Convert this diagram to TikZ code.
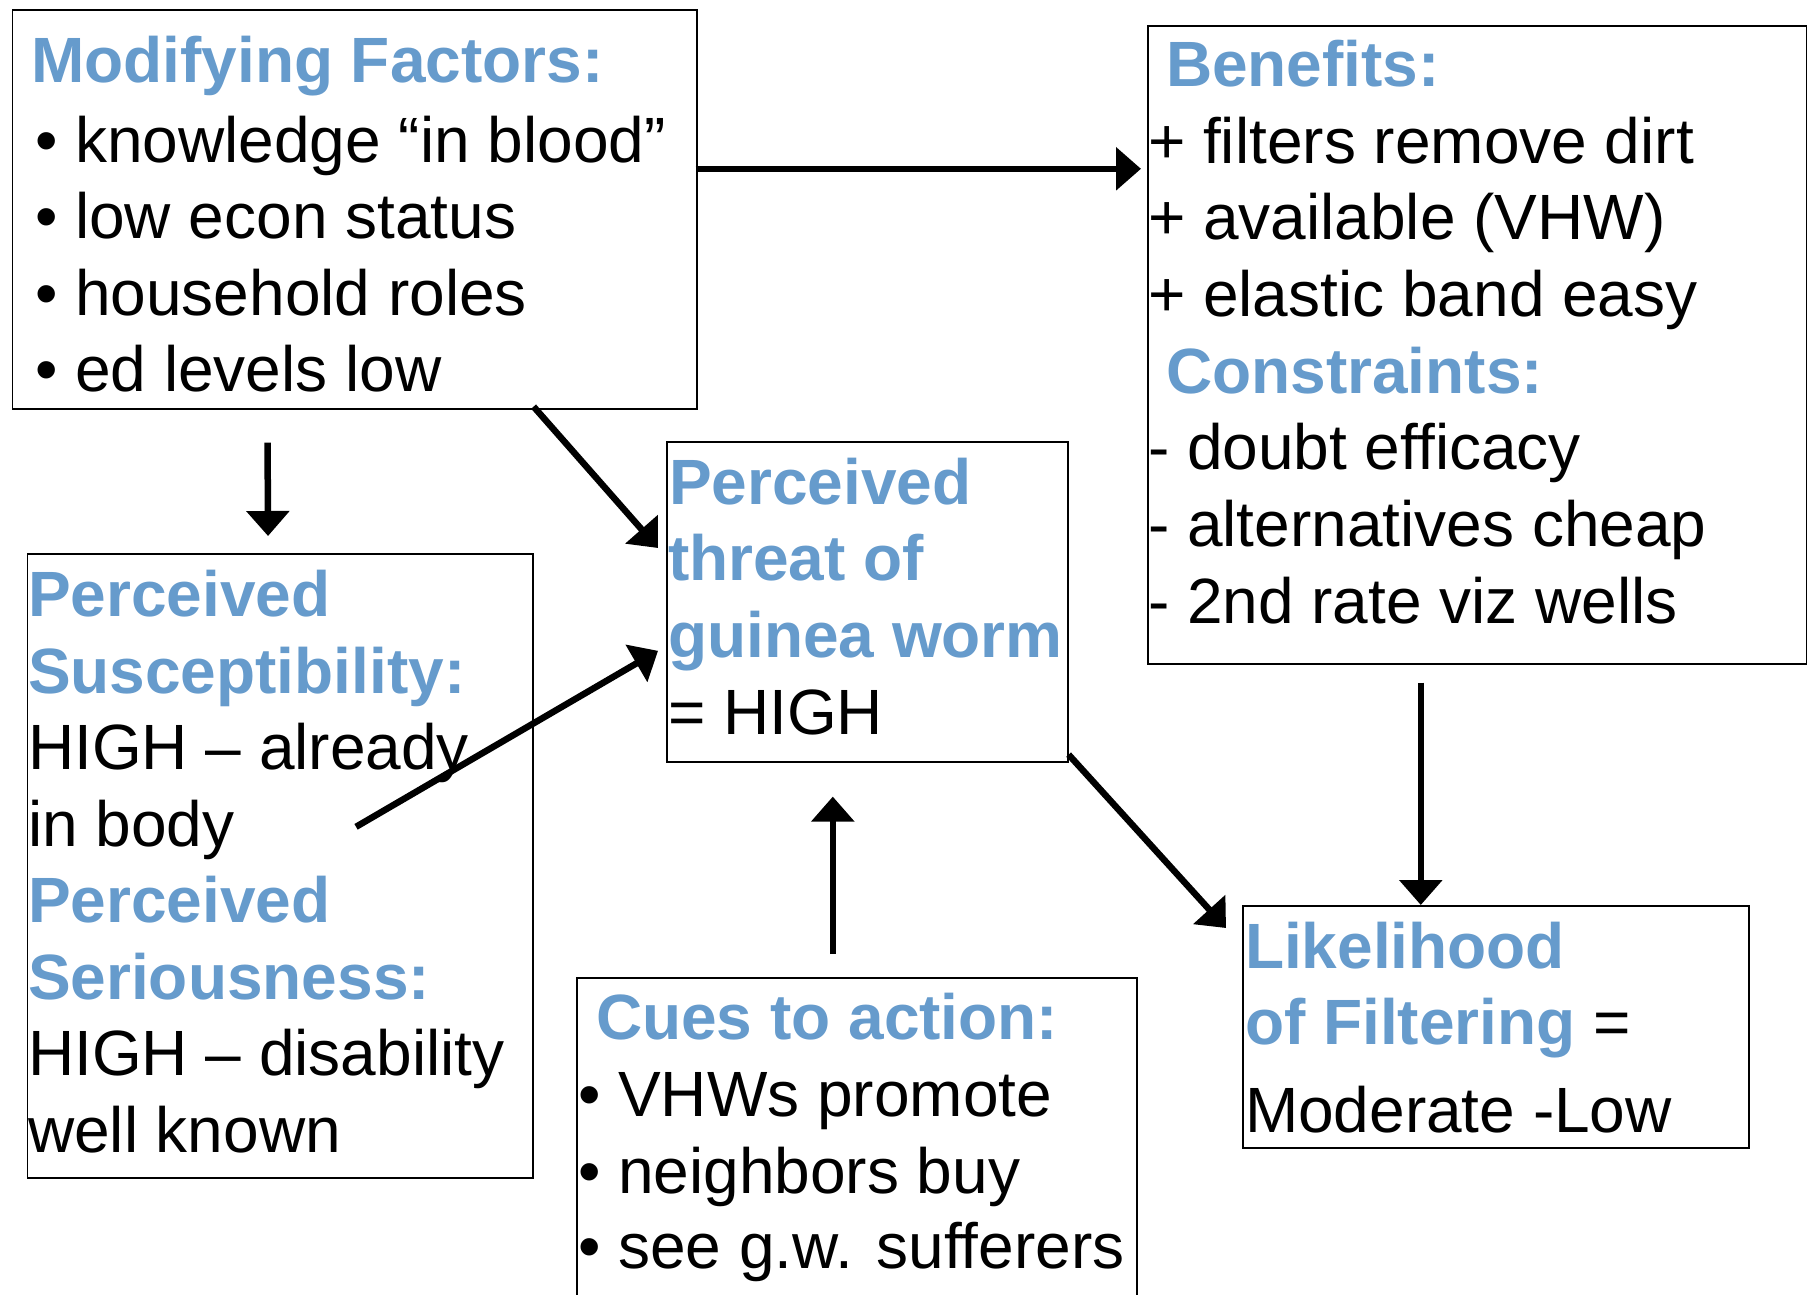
\documentclass[tikz,border=0pt]{standalone}
\usepackage{fontspec}
\setmainfont{Liberation Sans}
\usetikzlibrary{arrows.meta}
\definecolor{headblue}{RGB}{102,155,204}
\tikzset{
  box/.style={draw=black, line width=1.6pt, rectangle, inner sep=0pt, anchor=north west, fill=none},
  txt/.style={anchor=base west, inner sep=0pt, outer sep=0pt, font=\fontsize{64}{77}\selectfont},
  head/.style={txt, font=\fontsize{64}{77}\selectfont\bfseries, text=headblue},
  arr/.style={line width=6.5pt, -{Triangle[length=25pt,width=42pt]}}
}
\begin{document}
\begin{tikzpicture}[x=1pt,y=-1pt]
\useasboundingbox (0,0) rectangle (1807,1294);
\clip (0,0) rectangle (1807,1294);
\fill[white] (0,0) rectangle (1807,1294);

% boxes
\node[box, minimum width=684.5pt, minimum height=399pt] (mod) at (11.5,9) {};
\node[box, minimum width=659pt, minimum height=638pt] (ben) at (1147,25) {};
\node[box, minimum width=505.5pt, minimum height=624pt] (sus) at (26.5,553) {};
\node[box, minimum width=401pt, minimum height=320pt] (thr) at (666,441) {};
\node[box, minimum width=560pt, minimum height=340pt] (cues) at (576,977) {};
\node[box, minimum width=506pt, minimum height=242pt] (lik) at (1242,905) {};

% Modifying factors
\node[head] (modh) at (31,82) {Modifying Factors:};
\node[txt] (mod1) at (35,162) {• knowledge “in blood”};
\node[txt] (mod2) at (35,238) {• low econ status};
\node[txt] (mod3) at (35,315) {• household roles};
\node[txt] (mod4) at (35,391) {• ed levels low};

% Benefits / constraints
\node[head] (benh) at (1166,86) {Benefits:};
\node[txt] (ben1) at (1148,163) {+ filters remove dirt};
\node[txt] (ben2) at (1148,239) {+ available (VHW)};
\node[txt] (ben3) at (1148,316) {+ elastic band easy};
\node[head] (conh) at (1166,393) {Constraints:};
\node[txt] (con1) at (1148,469) {- doubt efficacy};
\node[txt] (con2) at (1148,546) {- alternatives cheap};
\node[txt] (con3) at (1148,623) {- 2nd rate viz wells};

% Susceptibility / seriousness
\node[head] (sus1) at (28,616) {Perceived};
\node[head] (sus2) at (28,693) {Susceptibility:};
\node[txt] (sus3) at (28,769) {HIGH – already};
\node[txt] (sus4) at (28,846) {in body};
\node[head] (ser1) at (28,922) {Perceived};
\node[head] (ser2) at (28,999) {Seriousness:};
\node[txt] (ser3) at (28,1075) {HIGH – disability};
\node[txt] (ser4) at (28,1152) {well known};

% Threat
\node[head] (thr1) at (669,504) {Perceived};
\node[head] (thr2) at (668,580) {threat of};
\node[head] (thr3) at (668,657) {guinea worm};
\node[txt] (thr4) at (668,734) {= HIGH};

% Cues
\node[head] (cuesh) at (596,1039) {Cues to action:};
\node[txt] (cues1) at (578,1116) {• VHWs promote};
\node[txt] (cues2) at (578,1193) {• neighbors buy};
\node[txt] (cues3) at (578,1268) {• see g.w. sufferers};

% Likelihood
\node[head] (lik1) at (1245,968) {Likelihood};
\node[txt] (lik2) at (1245,1044) {{\bfseries\color{headblue}of Filtering} =};
\node[txt] (lik3) at (1245,1132) {Moderate -Low};

% connectors
\draw[arr] ([xshift=-2pt,yshift=40.5pt]mod.east) -- ([xshift=-6pt,yshift=176pt]ben.west);
\draw[arr] ([xshift=-87pt,yshift=-33pt]mod.south) -- ([xshift=-12pt,yshift=17pt]sus.north);
\draw[arr] ([xshift=-164pt,yshift=3pt]mod.south east) -- ([xshift=-8pt,yshift=-107pt]thr.north west);
\draw[arr] ([xshift=76pt,yshift=39pt]sus.center) -- ([xshift=-8pt,yshift=-49pt]thr.west);
\draw[arr] ([xshift=-24pt,yshift=23pt]cues.north) -- ([xshift=-34.5pt,yshift=-34pt]thr.south);
\draw[arr] ([yshift=8pt]thr.south east) -- ([xshift=-16pt,yshift=-23pt]lik.north west);
\draw[arr] ([xshift=-56.5pt,yshift=-18pt]ben.south) -- ([xshift=-75pt]lik.north);
\end{tikzpicture}
\end{document}
